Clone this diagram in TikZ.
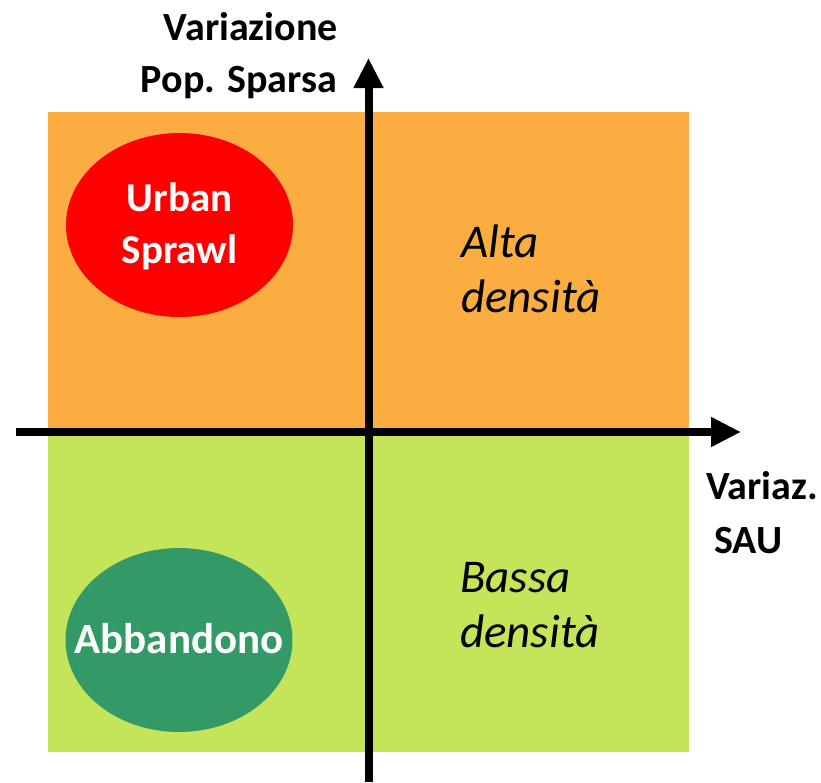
\documentclass[tikz,border=0pt]{standalone}
\usepackage{fontspec}
\setmainfont{Carlito}
\usetikzlibrary{arrows.meta,shapes.geometric}
\definecolor{qorange}{HTML}{FBAD41}
\definecolor{qlgreen}{HTML}{C4E55A}
\definecolor{qred}{HTML}{FF0000}
\definecolor{qdgreen}{HTML}{339966}
\tikzset{
  axisline/.style={line width=8pt,-{Triangle[length=30pt,width=28pt]}},
  blob/.style={ellipse,minimum width=227pt,minimum height=184pt,inner sep=0pt},
  blobtext/.style={inner sep=0pt,text=white,align=center,font=\bfseries\fontsize{41}{52}\selectfont},
  zonelabel/.style={anchor=base west,inner sep=0pt,font=\itshape\fontsize{47}{55}\selectfont},
  axislabel/.style={inner sep=0pt,font=\bfseries\fontsize{40}{52}\selectfont}
}
\begin{document}
\begin{tikzpicture}[x=1pt,y=-1pt]
\useasboundingbox (0,0) rectangle (821,782);
\fill[qorange] (48,112) rectangle (689,433);
\fill[qlgreen] (48,433) rectangle (689,752);
\node[blob,fill=qred] (urban) at (179.5,225) {};
\node[blobtext] (urbantext) at ([yshift=-1pt]urban.center) {Urban\\Sprawl};
\node[blob,fill=qdgreen] (abb) at (179,640) {};
\node[blobtext,font=\bfseries\fontsize{43}{52}\selectfont] (abbtext) at ([yshift=1pt]abb.center) {Abbandono};
\node[zonelabel] (alta) at (461,257) {Alta};
\node[zonelabel] (altad) at (461,312) {densità};
\node[zonelabel] (bassa) at (460,592) {Bassa};
\node[zonelabel] (bassad) at (460,647) {densità};
\coordinate (vstart) at (368.5,782);
\coordinate (vend) at (368.5,58);
\coordinate (hstart) at (16,432);
\coordinate (hend) at (741,432);
\draw[axisline] (vstart) -- (vend);
\draw[axisline] (hstart) -- (hend);
\node[axislabel,anchor=base east] (yl1) at (338,40) {Variazione};
\node[axislabel,anchor=base east] (yl2) at (337,92) {Pop. Sparsa};
\node[axislabel,anchor=base west] (xl1) at (706,499) {Variaz.};
\node[axislabel,anchor=base west] (xl2) at (714,553) {SAU};
\end{tikzpicture}
\end{document}
